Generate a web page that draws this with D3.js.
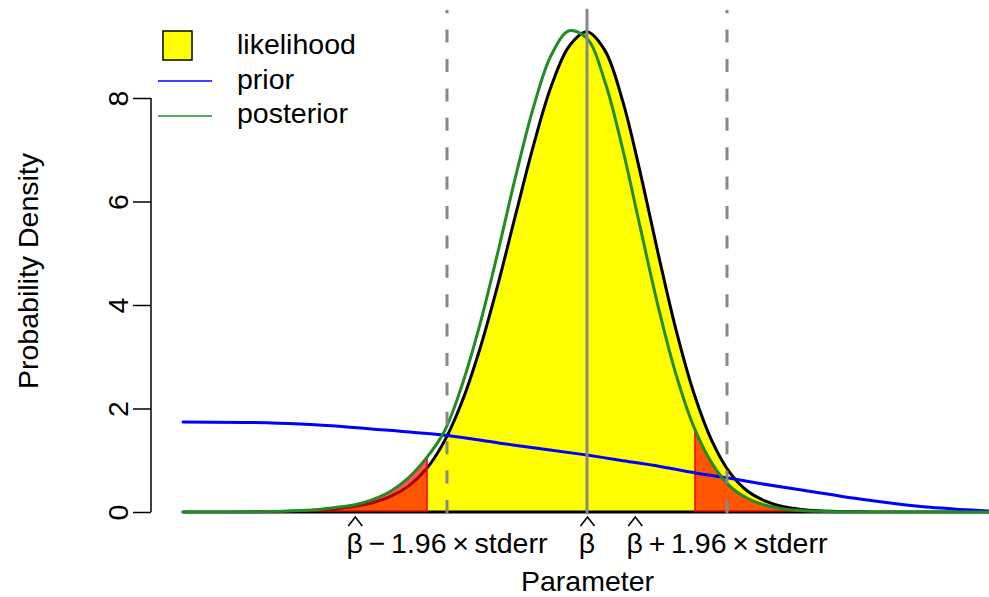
<!DOCTYPE html>
<html>
<head>
<meta charset="utf-8">
<script src="https://cdn.jsdelivr.net/npm/d3@7"></script>
<style>
  html, body { margin: 0; padding: 0; background: #ffffff; }
  svg { display: block; }
  text { font-family: "Liberation Sans", Arial, Helvetica, sans-serif; fill: #000; }
</style>
</head>
<body>
<svg id="chart" width="989" height="597"></svg>
<script>
// ---------------- data (parameter in units of stderr, beta-hat = 0) ----------------
const paramGrid = [-5.656, -5.25, -5.0, -4.75, -4.5, -4.25, -4.0, -3.75, -3.5, -3.25, -3.0, -2.75,
  -2.5, -2.25, -2.0, -1.75, -1.5, -1.25, -1.0, -0.75, -0.5, -0.25, 0, 0.25, 0.5, 0.75, 1.0, 1.25,
  1.5, 1.75, 2.0, 2.25, 2.5, 2.75, 3.0, 3.25, 3.5, 3.75, 4.0, 4.25, 4.5, 4.75, 5.0, 5.25, 5.5, 5.614];
const likelihoodValues = [0, 0, 0.001, 0.002, 0.005, 0.01, 0.02, 0.037, 0.065, 0.11, 0.18, 0.30,
  0.50, 0.83, 1.36, 2.13, 3.15, 4.38, 5.74, 7.08, 8.23, 9.00, 9.28, 8.92, 7.94, 6.53, 4.97, 3.50,
  2.28, 1.37, 0.76, 0.40, 0.21, 0.10, 0.05, 0.025, 0.012, 0.005, 0.002, 0.001, 0, 0, 0, 0, 0, 0];
const posteriorValues = [0, 0.001, 0.002, 0.004, 0.008, 0.015, 0.028, 0.05, 0.09, 0.14, 0.24, 0.40,
  0.66, 1.04, 1.55, 2.45, 3.62, 5.01, 6.48, 7.82, 8.83, 9.30, 9.15, 8.32, 7.01, 5.47, 3.95, 2.64,
  1.63, 0.94, 0.50, 0.26, 0.13, 0.06, 0.03, 0.014, 0.006, 0.002, 0.001, 0, 0, 0, 0, 0, 0, 0];
const priorX = [-5.656, -4.718, -4.018, -3.318, -2.618, -1.96, -1.218, -0.518, 0, 0.462, 1.022,
  1.582, 1.96, 2.422, 2.982, 3.822, 4.382, 4.802, 5.222, 5.614];
const priorValues = [1.74, 1.73, 1.70, 1.64, 1.56, 1.48, 1.33, 1.20, 1.10, 1.00, 0.88,
  0.74, 0.66, 0.55, 0.43, 0.25, 0.15, 0.09, 0.05, 0.02];
const tailCuts = [-2.24, 1.512];          // posterior tail boundaries
const refLines = [-1.96, 0, 1.96];        // beta-hat -/+ 1.96 x stderr
const refLineTop = 9.7;
const yTicks = [0, 2, 4, 6, 8];
const xTickLabels = ["β\u2009−\u20091.96\u2009×\u2009stderr", "β", "β\u2009+\u20091.96\u2009×\u2009stderr"];
const legendLabels = ["likelihood", "prior", "posterior"];
const xTitle = "Parameter";
const yTitle = "Probability Density";

// ---------------- layout ----------------
const svg = d3.select("#chart");
svg.append("rect").attr("width", 989).attr("height", 597).attr("fill", "#fff");
const x = d3.scaleLinear().domain([-5.656, 5.614]).range([183, 988]);
const y = d3.scaleLinear().domain([0, 8]).range([512, 98]);
const FS = 28.5;
const lik = paramGrid.map((v, i) => ({x: v, y: likelihoodValues[i]}));
const post = paramGrid.map((v, i) => ({x: v, y: posteriorValues[i]}));
const prior = priorX.map((v, i) => ({x: v, y: priorValues[i]}));
const curve = d3.curveCatmullRom.alpha(0.5);
const area = d3.area().x(d => x(d.x)).y0(y(0)).y1(d => Math.min(y(0), y(d.y))).curve(curve);
const line = d3.line().x(d => x(d.x)).y(d => Math.min(y(0), y(d.y))).curve(curve);

const defs = svg.append("defs");
defs.append("clipPath").attr("id", "tailL").append("rect")
  .attr("x", 0).attr("y", 0).attr("width", x(tailCuts[0])).attr("height", 597);
defs.append("clipPath").attr("id", "tailR").append("rect")
  .attr("x", x(tailCuts[1])).attr("y", 0).attr("width", 989 - x(tailCuts[1])).attr("height", 597);
defs.append("clipPath").attr("id", "postArea").append("path").attr("d", area(post));

// likelihood polygon
svg.append("path").attr("d", area(lik)).attr("fill", "#ffff00")
  .attr("stroke", "#000").attr("stroke-width", 3).attr("stroke-linejoin", "round");

// posterior tails
["tailL", "tailR"].forEach(id => {
  svg.append("path").attr("d", area(post)).attr("clip-path", `url(#${id})`)
    .attr("fill", "rgba(255,0,0,0.67)");
});
tailCuts.forEach(c => {
  svg.append("line").attr("x1", x(c)).attr("x2", x(c)).attr("y1", y(0)).attr("y2", 0)
    .attr("clip-path", "url(#postArea)").attr("stroke", "rgba(255,0,0,0.8)").attr("stroke-width", 2);
});

// prior and posterior curves
svg.append("path").attr("d", line(prior)).attr("fill", "none")
  .attr("stroke", "#0000ff").attr("stroke-width", 3).attr("stroke-linecap", "round");
svg.append("path").attr("d", line(post)).attr("fill", "none")
  .attr("stroke", "#228b22").attr("stroke-width", 3).attr("stroke-linecap", "round");

// reference lines
refLines.forEach(v => {
  const l = svg.append("line").attr("x1", x(v)).attr("x2", x(v))
    .attr("y1", y(0) + 1).attr("y2", y(refLineTop))
    .attr("stroke", "#888888").attr("stroke-width", 3);
  if (v !== 0) l.attr("stroke-dasharray", "13,16.4");
  else l.attr("stroke-linecap", "round");
});

// y axis
const yAxis = d3.axisLeft(y).tickValues(yTicks).tickSize(18).tickPadding(0).tickFormat(d3.format("d"));
const gy = svg.append("g").attr("transform", "translate(151,0)").call(yAxis);
gy.select(".domain").attr("d", `M-0,${y(0)}V${y(8)}`).attr("stroke-width", 1.5);
gy.selectAll(".tick line").attr("stroke-width", 1.5);
gy.selectAll(".tick text").attr("x", null).attr("dy", null)
  .attr("text-anchor", "middle").attr("transform", "translate(-23,0) rotate(-90)")
  .style("font-size", FS + "px").style("font-family", '"Liberation Sans", Arial, sans-serif');

// x tick labels (with hats on beta)
refLines.forEach((v, i) => {
  const t = svg.append("text").attr("x", x(v)).attr("y", 553).attr("text-anchor", "middle")
    .style("font-size", FS + "px").text(xTickLabels[i]);
  const ext = t.node().getExtentOfChar(0);
  const cx = ext.x + ext.width / 2 + 0.5;
  svg.append("path").attr("d", `M${cx - 7},${526} L${cx},${517} L${cx + 7},${526}`)
    .attr("fill", "none").attr("stroke", "#000").attr("stroke-width", 1.6);
});

// axis titles
svg.append("text").attr("x", 587.5).attr("y", 591).attr("text-anchor", "middle")
  .style("font-size", FS + "px").text(xTitle);
svg.append("text").attr("transform", "translate(38,271) rotate(-90)").attr("text-anchor", "middle")
  .style("font-size", FS + "px").text(yTitle);

// legend
svg.append("rect").attr("x", 163).attr("y", 31).attr("width", 29).attr("height", 29)
  .attr("fill", "#ffff00").attr("stroke", "#000").attr("stroke-width", 1.5);
svg.append("line").attr("x1", 158).attr("x2", 212).attr("y1", 81).attr("y2", 81)
  .attr("stroke", "#0000ff").attr("stroke-width", 1.5);
svg.append("line").attr("x1", 158).attr("x2", 212).attr("y1", 116).attr("y2", 116)
  .attr("stroke", "#228b22").attr("stroke-width", 1.5);
const legY = [54, 88.5, 123];
legendLabels.forEach((s, i) => {
  svg.append("text").attr("x", 237).attr("y", legY[i]).style("font-size", FS + "px").text(s);
});
</script>
</body>
</html>
